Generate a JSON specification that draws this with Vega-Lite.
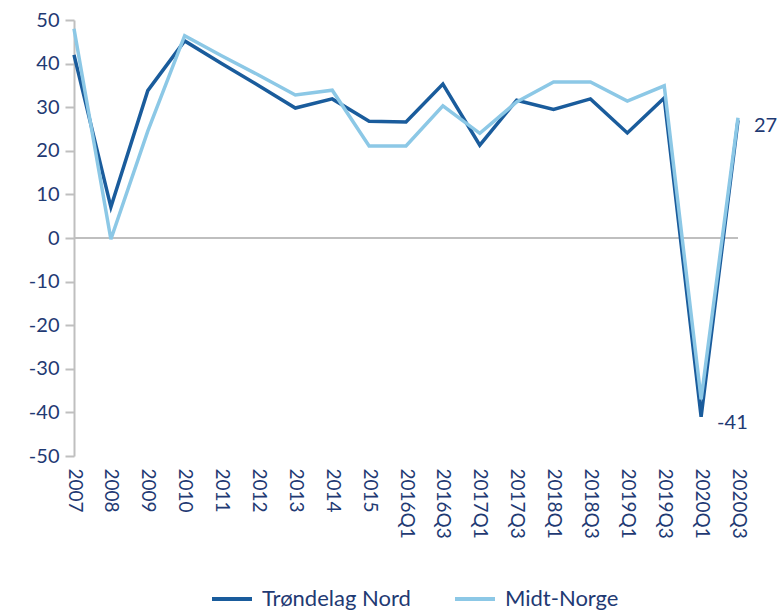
{
  "$schema": "https://vega.github.io/schema/vega-lite/v6.json",
  "width": 664,
  "height": 436,
  "autosize": "none",
  "padding": {"left": 74, "top": 20, "right": 45, "bottom": 156},
  "background": "white",
  "config": {
    "view": {"stroke": null},
    "font": "Lato",
    "axis": {"labelFont": "Lato", "labelColor": "#1F3A73", "grid": false}
  },
  "datasets": {
    "series": [
      {"period": "2007", "series": "Trøndelag Nord", "value": 42},
      {"period": "2008", "series": "Trøndelag Nord", "value": 7.1},
      {"period": "2009", "series": "Trøndelag Nord", "value": 33.8},
      {"period": "2010", "series": "Trøndelag Nord", "value": 45.2},
      {"period": "2011", "series": "Trøndelag Nord", "value": 40},
      {"period": "2012", "series": "Trøndelag Nord", "value": 35},
      {"period": "2013", "series": "Trøndelag Nord", "value": 29.8},
      {"period": "2014", "series": "Trøndelag Nord", "value": 31.9},
      {"period": "2015", "series": "Trøndelag Nord", "value": 26.8},
      {"period": "2016Q1", "series": "Trøndelag Nord", "value": 26.6},
      {"period": "2016Q3", "series": "Trøndelag Nord", "value": 35.3},
      {"period": "2017Q1", "series": "Trøndelag Nord", "value": 21.3},
      {"period": "2017Q3", "series": "Trøndelag Nord", "value": 31.6},
      {"period": "2018Q1", "series": "Trøndelag Nord", "value": 29.5},
      {"period": "2018Q3", "series": "Trøndelag Nord", "value": 31.9},
      {"period": "2019Q1", "series": "Trøndelag Nord", "value": 24.1},
      {"period": "2019Q3", "series": "Trøndelag Nord", "value": 32.1},
      {"period": "2020Q1", "series": "Trøndelag Nord", "value": -41},
      {"period": "2020Q3", "series": "Trøndelag Nord", "value": 27},
      {"period": "2007", "series": "Midt-Norge", "value": 48},
      {"period": "2008", "series": "Midt-Norge", "value": -0.3},
      {"period": "2009", "series": "Midt-Norge", "value": 24.5},
      {"period": "2010", "series": "Midt-Norge", "value": 46.4},
      {"period": "2011", "series": "Midt-Norge", "value": 41.8},
      {"period": "2012", "series": "Midt-Norge", "value": 37.4},
      {"period": "2013", "series": "Midt-Norge", "value": 32.8},
      {"period": "2014", "series": "Midt-Norge", "value": 33.9},
      {"period": "2015", "series": "Midt-Norge", "value": 21.1},
      {"period": "2016Q1", "series": "Midt-Norge", "value": 21.1},
      {"period": "2016Q3", "series": "Midt-Norge", "value": 30.3},
      {"period": "2017Q1", "series": "Midt-Norge", "value": 24},
      {"period": "2017Q3", "series": "Midt-Norge", "value": 31.2},
      {"period": "2018Q1", "series": "Midt-Norge", "value": 35.8},
      {"period": "2018Q3", "series": "Midt-Norge", "value": 35.8},
      {"period": "2019Q1", "series": "Midt-Norge", "value": 31.4},
      {"period": "2019Q3", "series": "Midt-Norge", "value": 34.9},
      {"period": "2020Q1", "series": "Midt-Norge", "value": -37},
      {"period": "2020Q3", "series": "Midt-Norge", "value": 27.6}
    ],
    "labels": [
      {"period": "2020Q3", "value": 27, "label": "27"},
      {"period": "2020Q1", "value": -41, "label": "-41"}
    ],
    "zero": [{"value": 0}]
  },
  "layer": [
    {
      "data": {"name": "zero"},
      "mark": {"type": "rule", "color": "#BFBFBF", "strokeWidth": 2},
      "encoding": {"y": {"field": "value", "type": "quantitative", "scale": {"domain": [-50, 50]}}}
    },
    {
      "data": {"name": "series"},
      "mark": {"type": "line", "strokeWidth": 3.5, "strokeJoin": "miter"},
      "encoding": {
        "x": {
          "field": "period", "type": "ordinal", "sort": null,
          "scale": {"type": "point", "padding": 0},
          "axis": {"title": null, "labelAngle": 90, "domain": false, "ticks": false, "labelPadding": 12, "labelFontSize": 19}
        },
        "y": {
          "field": "value", "type": "quantitative",
          "scale": {"domain": [-50, 50], "nice": false, "zero": false},
          "axis": {"title": null, "values": [-50, -40, -30, -20, -10, 0, 10, 20, 30, 40, 50], "labelExpr": "replace(datum.label, '−', '-')", "labelFontSize": 20, "domainColor": "#BFBFBF", "domainWidth": 2, "tickColor": "#BFBFBF", "tickWidth": 2, "tickSize": 9, "labelPadding": 6}
        },
        "color": {
          "field": "series", "type": "nominal",
          "scale": {"domain": ["Trøndelag Nord", "Midt-Norge"], "range": ["#1A5C9C", "#8CC8E6"]},
          "legend": {"title": null, "orient": "none", "legendX": 136, "legendY": 557, "direction": "horizontal", "symbolType": "stroke", "symbolSize": 1600, "symbolStrokeWidth": 4, "labelFontSize": 22, "labelColor": "#1F3A73", "labelFont": "Lato", "labelLimit": 0, "columnPadding": 36, "labelOffset": 8}
        },
        "order": {"field": "series", "sort": "descending"}
      }
    },
    {
      "data": {"name": "labels"},
      "mark": {"type": "text", "align": "left", "fontSize": 20, "color": "#1F3A73", "font": "Lato", "dx": 16, "dy": 6},
      "encoding": {
        "x": {"field": "period", "type": "ordinal", "sort": null},
        "y": {"field": "value", "type": "quantitative"},
        "text": {"field": "label"}
      }
    }
  ]
}
